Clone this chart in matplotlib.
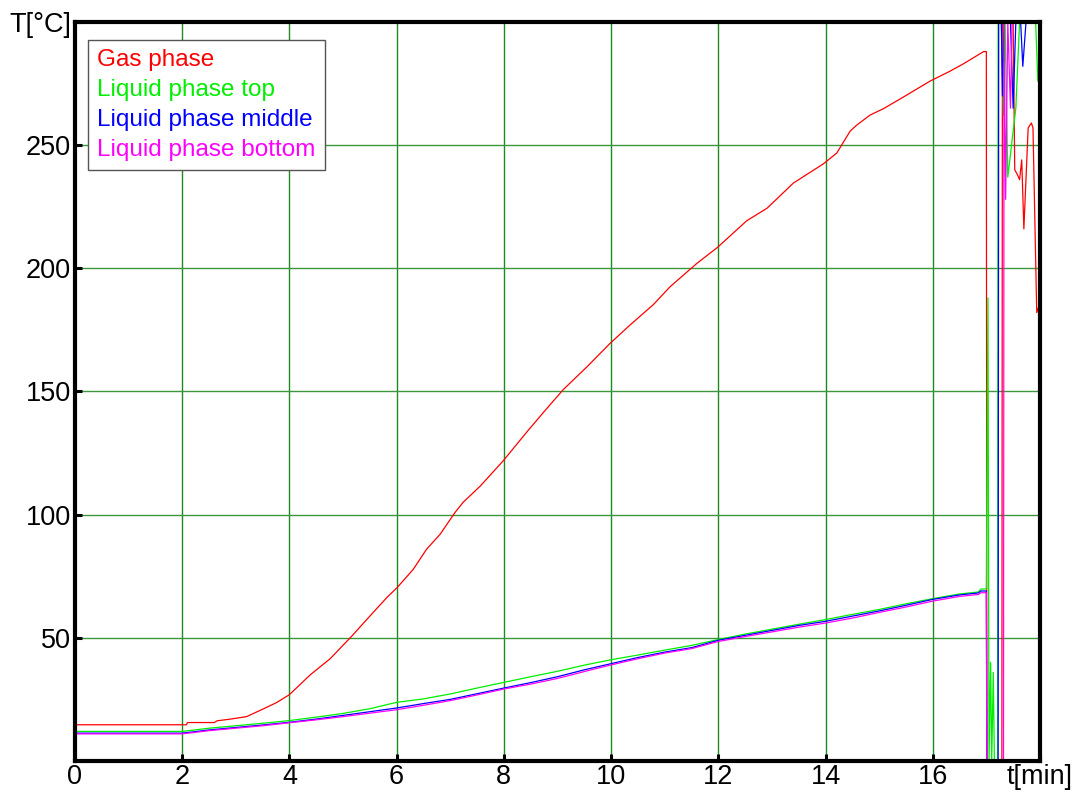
import matplotlib
matplotlib.use('Agg')
import matplotlib.pyplot as plt

plt.rcParams['font.family'] = ['Liberation Sans', 'DejaVu Sans']

# ===== data (t in min, T in degC) =====
t_gas = [0, 2.08, 2.1, 2.6, 2.65, 2.9, 3.2, 3.5, 3.76, 4.0, 4.39, 4.76, 5.16, 5.5,
         5.82, 6.01, 6.31, 6.56, 6.81, 7.09, 7.24, 7.56, 7.99, 8.43, 8.77, 9.11,
         9.55, 9.98, 10.35, 10.79, 11.1, 11.6, 11.98, 12.53, 12.91, 13.4, 13.96,
         14.21, 14.46, 14.58, 14.83, 15.08, 15.45, 15.95, 16.32, 16.57, 16.95, 17.0,
         17.01, 17.29, 17.3, 17.5, 17.53, 17.58, 17.62, 17.66, 17.70, 17.78, 17.84,
         17.87, 17.94, 17.97]
T_gas = [14.7, 14.7, 15.6, 15.6, 16.3, 17.0, 18.0, 21.0, 23.7, 26.9, 35.0, 41.5, 50.6,
         58.8, 66.4, 70.4, 77.8, 86.0, 92.0, 100.9, 105.0, 111.6, 121.9, 133.6, 142.3,
         150.8, 160.0, 169.5, 176.9, 185.3, 192.5, 202.0, 208.4, 219.3, 224.4, 234.6,
         242.4, 246.8, 255.7, 258.1, 262.2, 264.8, 269.5, 276.0, 280.0, 283.0, 288.0,
         288.0, 0, 0, 300, 300, 240, 238, 236, 244, 216, 257, 259, 257, 182, 184]

t_liq = [0, 2.0, 2.2, 2.5, 3.0, 3.5, 4.0, 4.5, 5.0, 5.5, 6.0, 6.5, 7.0, 7.5, 8.0, 8.5,
         9.0, 9.5, 10.0, 10.5, 11.0, 11.5, 12.0, 12.5, 13.0, 13.5, 14.0, 14.5, 15.0,
         15.5, 16.0, 16.5, 16.85, 16.9, 17.0]
T_top = [12.0, 12.0, 12.5, 13.3, 14.3, 15.3, 16.4, 17.8, 19.3, 21.2, 23.8, 25.2, 27.2,
         29.6, 31.9, 34.2, 36.4, 38.9, 41.1, 43.0, 45.0, 46.9, 49.3, 51.5, 53.5, 55.5,
         57.4, 59.5, 61.5, 63.8, 65.9, 67.8, 68.6, 69.8, 69.8]
T_mid = [11.3, 11.3, 11.8, 12.6, 13.6, 14.6, 15.7, 17.0, 18.5, 20.0, 21.5, 23.3, 25.0,
         27.3, 29.6, 31.8, 34.2, 37.0, 39.5, 42.0, 44.2, 46.0, 49.0, 51.0, 53.0, 55.0,
         56.7, 58.8, 60.9, 63.2, 65.6, 67.4, 68.2, 69.0, 69.0]
T_bot = [11.0, 11.0, 11.5, 12.3, 13.3, 14.3, 15.5, 16.7, 18.0, 19.4, 20.8, 22.6, 24.5,
         26.8, 29.2, 31.2, 33.5, 36.3, 39.0, 41.5, 43.8, 45.6, 48.5, 50.5, 52.4, 54.3,
         56.0, 58.0, 60.3, 62.5, 64.9, 66.8, 67.6, 68.3, 68.3]

# sensor failure after ~17 min
t_top_end = [17.03, 17.05, 17.08, 17.1, 17.13, 17.15, 17.21, 17.22, 17.28, 17.32,
             17.35, 17.40, 17.55, 17.62, 17.92, 17.96]
T_top_end = [188, 0, 40, 0, 36, 0, 0, 300, 300, 262, 300, 237, 265, 300, 300, 276]
t_mid_end = [17.01, 17.22, 17.23, 17.28, 17.30, 17.33, 17.45, 17.5, 17.55, 17.64,
             17.68, 17.74, 18.0]
T_mid_end = [0, 0, 300, 300, 270, 300, 300, 265, 300, 300, 282, 300, 300]
t_bot_end = [17.01, 17.32, 17.33, 17.36, 17.40, 17.45, 17.48, 18.0]
T_bot_end = [0, 0, 300, 228, 300, 265, 300, 300]

labels = ['Gas phase', 'Liquid phase top', 'Liquid phase middle', 'Liquid phase bottom']
colors = ['#ff0000', '#00ee00', '#0000ff', '#ff00ff']

fig = plt.figure(figsize=(10.77, 7.94), dpi=100)
ax = fig.add_axes([0.0696, 0.0416, 0.8960, 0.9307])

ax.plot(t_gas, T_gas, color=colors[0], lw=0.9, label=labels[0])
ax.plot(t_liq + t_top_end, T_top + T_top_end, color=colors[1], lw=0.9, label=labels[1])
ax.plot(t_liq + t_mid_end, T_mid + T_mid_end, color=colors[2], lw=0.9, label=labels[2])
ax.plot(t_liq + t_bot_end, T_bot + T_bot_end, color=colors[3], lw=0.9, label=labels[3])

ax.set_xlim(0, 18)
ax.set_ylim(0, 300)

xt = list(range(0, 20, 2))
ax.set_xticks(xt)
ax.set_xticklabels([str(v) for v in xt[:-1]] + ['t[min]'])
yt = [0, 50, 100, 150, 200, 250, 300]
ax.set_yticks(yt)
ax.set_yticklabels([''] + [str(v) for v in yt[1:-1]] + ['T[°C]'])
ax.tick_params(direction='in', length=5, width=2.2, labelsize=19.5)
ax.tick_params(axis='x', pad=2)
ax.tick_params(axis='y', pad=3)

# green grid, only inner lines
for x in xt[1:-1]:
    ax.axvline(x, color='#1f8a1f', lw=1.0, zorder=0)
for y in yt[1:-1]:
    ax.axhline(y, color='#3c963c', lw=1.0, zorder=0)

for s in ax.spines.values():
    s.set_linewidth(3)

leg = ax.legend(loc='upper left', bbox_to_anchor=(0.0135, 0.9756), handlelength=0,
                handletextpad=0, labelcolor='linecolor', fontsize=17.5,
                fancybox=False, framealpha=1, edgecolor='#555555',
                borderpad=0.38, labelspacing=0.32, borderaxespad=0)
for h in leg.legend_handles:
    h.set_visible(False)
leg.get_frame().set_linewidth(1.0)

fig.savefig('out.png', dpi=100)
